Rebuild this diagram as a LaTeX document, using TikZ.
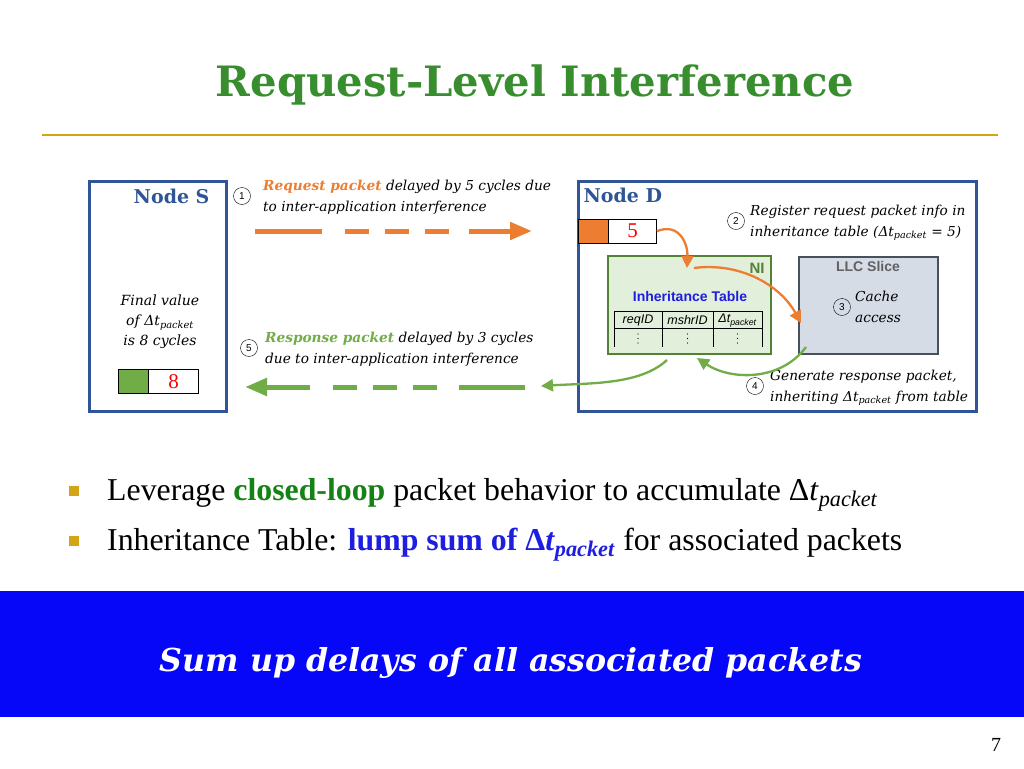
\documentclass[tikz,border=0pt]{standalone}
\usepackage{fontspec}
\setmainfont{DejaVu Serif}
\newfontfamily\timesfont{Liberation Serif}
\newfontfamily\arialfont{Liberation Sans}
\usetikzlibrary{positioning,arrows.meta,calc}

\definecolor{titlegreen}{RGB}{56,142,46}
\definecolor{rulegold}{RGB}{212,164,22}
\definecolor{nodeblue}{RGB}{47,85,151}
\definecolor{reqorange}{RGB}{237,125,49}
\definecolor{respgreen}{RGB}{112,173,71}
\definecolor{nifill}{RGB}{226,239,218}
\definecolor{niborder}{RGB}{84,130,53}
\definecolor{llcfill}{RGB}{214,220,229}
\definecolor{llcborder}{RGB}{72,80,92}
\definecolor{tableblue}{RGB}{30,30,225}
\definecolor{bannerblue}{RGB}{6,6,248}
\definecolor{loopgreen}{RGB}{20,130,20}

\newcommand{\dtpkt}{Δ\textit{t}\textsubscript{\textit{packet}}}

\begin{document}
\begin{tikzpicture}[
    x=1pt, y=-1pt,
    box/.style ={
        draw=nodeblue,
        line width=2.5pt,
        anchor=north west
    },
    nodelabel/.style ={
        font=\bfseries\fontsize{19}{22}\selectfont,
        text=nodeblue
    },
    stepnum/.style ={
        circle,
        draw,
        thin,
        inner sep=0pt,
        minimum size=17pt,
        font=\arialfont\fontsize{10}{10}\selectfont
    },
    note/.style ={
        font=\itshape\fontsize{13.7}{21}\selectfont,
        align=left,
        anchor=north west,
        inner sep=0pt
    },
    pktsq/.style ={
        draw=black,
        thin,
        minimum width=30pt,
        minimum height=24pt,
        anchor=north west
    },
    pktval/.style ={
        draw=black,
        thin,
        fill=white,
        minimum width=50pt,
        minimum height=24pt,
        inner sep=0pt,
        text=red,
        font=\timesfont\fontsize{21}{21}\selectfont
    },
    sanslabel/.style ={
        font=\arialfont\bfseries\fontsize{14}{16}\selectfont
    },
    colhead/.style ={
        font=\arialfont\itshape\fontsize{12.5}{14}\selectfont,
        inner sep=0pt
    },
    bigdash/.style ={
        line width=5pt,
        -{Triangle[length=22pt,width=17pt]}
    },
    curve/.style ={
        line width=2.3pt,
        -{Triangle[length=12pt,width=12pt]}
    },
    bullet/.style ={
        fill=rulegold,
        minimum size=10pt,
        inner sep=0pt
    },
    bullettext/.style ={
        anchor=base west,
        inner sep=0pt,
        font=\timesfont\fontsize{31.8}{34}\selectfont
    }
    ]

    \fill[white] (0,0) rectangle (1024,768);
    \useasboundingbox (0,0) rectangle (1024,768);

    % title
    \node[font=\bfseries\fontsize{41.8}{48}\selectfont, text=titlegreen] (title) at (535,85) {Request-Level Interference};
    \draw[rulegold, line width=2.2pt] (42,135) -- (998,135);

    % node S
    \node[box, minimum width=137pt, minimum height=230pt] (nodeS) at (88,180) {};
    \node[nodelabel, anchor=east] (labelS) at (213,196) {Node S};
    \node[align=center, font=\itshape\fontsize{14}{20}\selectfont] (final) at (160,322) {Final value\\of \dtpkt\\is 8 cycles};
    \node[pktsq, fill=respgreen] (sqS) at (118,369) {};
    \node[pktval, right=0pt of sqS] (valS) {8};

    % node D
    \node[box, minimum width=398pt, minimum height=230pt] (nodeD) at (577,180) {};
    \node[nodelabel, anchor=west] (labelD) at (580,195) {Node D};
    \node[pktsq, fill=reqorange] (sqD) at (578,219) {};
    \node[pktval, right=0pt of sqD, minimum width=48pt] (valD) {5};

    % NI with inheritance table
    \node[draw=niborder, fill=nifill, line width=2pt, anchor=north west, minimum width=163pt, minimum height=98pt] (ni) at (607,255) {};
    \node[sanslabel, text=niborder, font=\arialfont\bfseries\fontsize{15}{16}\selectfont] (nilabel) at (757,268) {NI};
    \node[sanslabel, text=tableblue] (tabtitle) at (690,296) {Inheritance Table};
    \draw[thick] (614,311) -- (762,311);
    \draw[thick] (614,328) -- (762,328);
    \foreach \x in {614,662,713,762}
        \draw[thick] (\x,311) -- (\x,347);
    \node[colhead] (hreq) at (638,320.5) {reqID};
    \node[colhead] (hmshr) at (687.5,320.5) {mshrID};
    \node[colhead] (hdt) at (737.5,320.5) {Δ\textit{t}\textsubscript{packet}};
    \foreach \x in {638,687.5,737.5}
        \foreach \y in {334,338.5,343}
            \fill (\x,\y) circle (0.7pt);

    % LLC slice
    \node[draw=llcborder, fill=llcfill, line width=2pt, anchor=north west, minimum width=139pt, minimum height=97pt] (llc) at (798,256) {};
    \node[sanslabel, text=black!62] (llclabel) at (868,266) {LLC Slice};

    % steps
    \node[stepnum] (n1) at (242,196) {1};
    \node[note] (req) at (263,180) {\textcolor{reqorange}{\bfseries Request packet} delayed by 5 cycles due\\to inter-application interference};
    \node[stepnum] (n2) at (736,221) {2};
    \node[note] (reg) at (750,205) {Register request packet info in\\inheritance table (\dtpkt{} = 5)};
    \node[stepnum] (n3) at (842,307) {3};
    \node[note] (cache) at (855,291) {Cache\\access};
    \node[stepnum] (n4) at (755,386) {4};
    \node[note] (gen) at (770,370) {Generate response packet,\\inheriting \dtpkt{} from table};
    \node[stepnum] (n5) at (249,348) {5};
    \node[note] (resp) at (265,332) {\textcolor{respgreen}{\bfseries Response packet} delayed by 3 cycles\\due to inter-application interference};

    % packets travelling between the nodes
    \coordinate (reqstart) at (255,231);
    \coordinate (reqend) at (532,231);
    \draw[bigdash, reqorange, dash pattern=on 67pt off 23pt on 24pt off 16pt on 24pt off 16pt on 24pt off 20pt on 80pt] (reqstart) -- (reqend);
    \coordinate (respstart) at (525,387);
    \coordinate (respend) at (245,387);
    \draw[bigdash, respgreen, dash pattern=on 66pt off 22pt on 24pt off 16pt on 24pt off 16pt on 24pt off 23pt on 80pt] (respstart) -- (respend);

    % flow inside node D
    \coordinate (niin) at (687,268);
    \coordinate (niout) at (694,268);
    \coordinate (llcin) at (801,323);
    \coordinate (llcout) at (806,347);
    \coordinate (niback) at (697,358);
    \coordinate (nibottom) at (667,360);
    \coordinate (exitD) at (541,386);
    \draw[curve, reqorange] (valD.east) .. controls (680,222) and (688,245) .. (niin);
    \draw[curve, reqorange] (niout) .. controls (740,262) and (780,285) .. (llcin);
    \draw[curve, respgreen] (llcout) .. controls (780,382) and (730,380) .. (niback);
    \draw[curve, respgreen] (nibottom) .. controls (640,385) and (590,383) .. (exitD);

    % bullets
    \node[bullet] (b1) at (74,491) {};
    \node[bullettext] (t1) at (107,500) {Leverage \textcolor{loopgreen}{\bfseries closed-loop} packet behavior to accumulate Δ\textit{t}\textsubscript{\textit{packet}}};
    \node[bullet] (b2) at (74,541) {};
    \node[bullettext] (t2) at (107,550) {Inheritance Table: \textcolor{tableblue}{\bfseries lump sum of Δ\textit{t}\textsubscript{\textit{packet}}} for associated packets};

    % banner
    \node[fill=bannerblue, anchor=north west, minimum width=1024pt, minimum height=126pt, inner sep=0pt] (banner) at (0,591) {};
    \node[text=white, font=\bfseries\itshape\fontsize{31.6}{36}\selectfont] (bannertext) at (511,663) {Sum up delays of all associated packets};

    \node[font=\timesfont\fontsize{20}{20}\selectfont] (page) at (996,745) {7};
\end{tikzpicture}
\end{document}
